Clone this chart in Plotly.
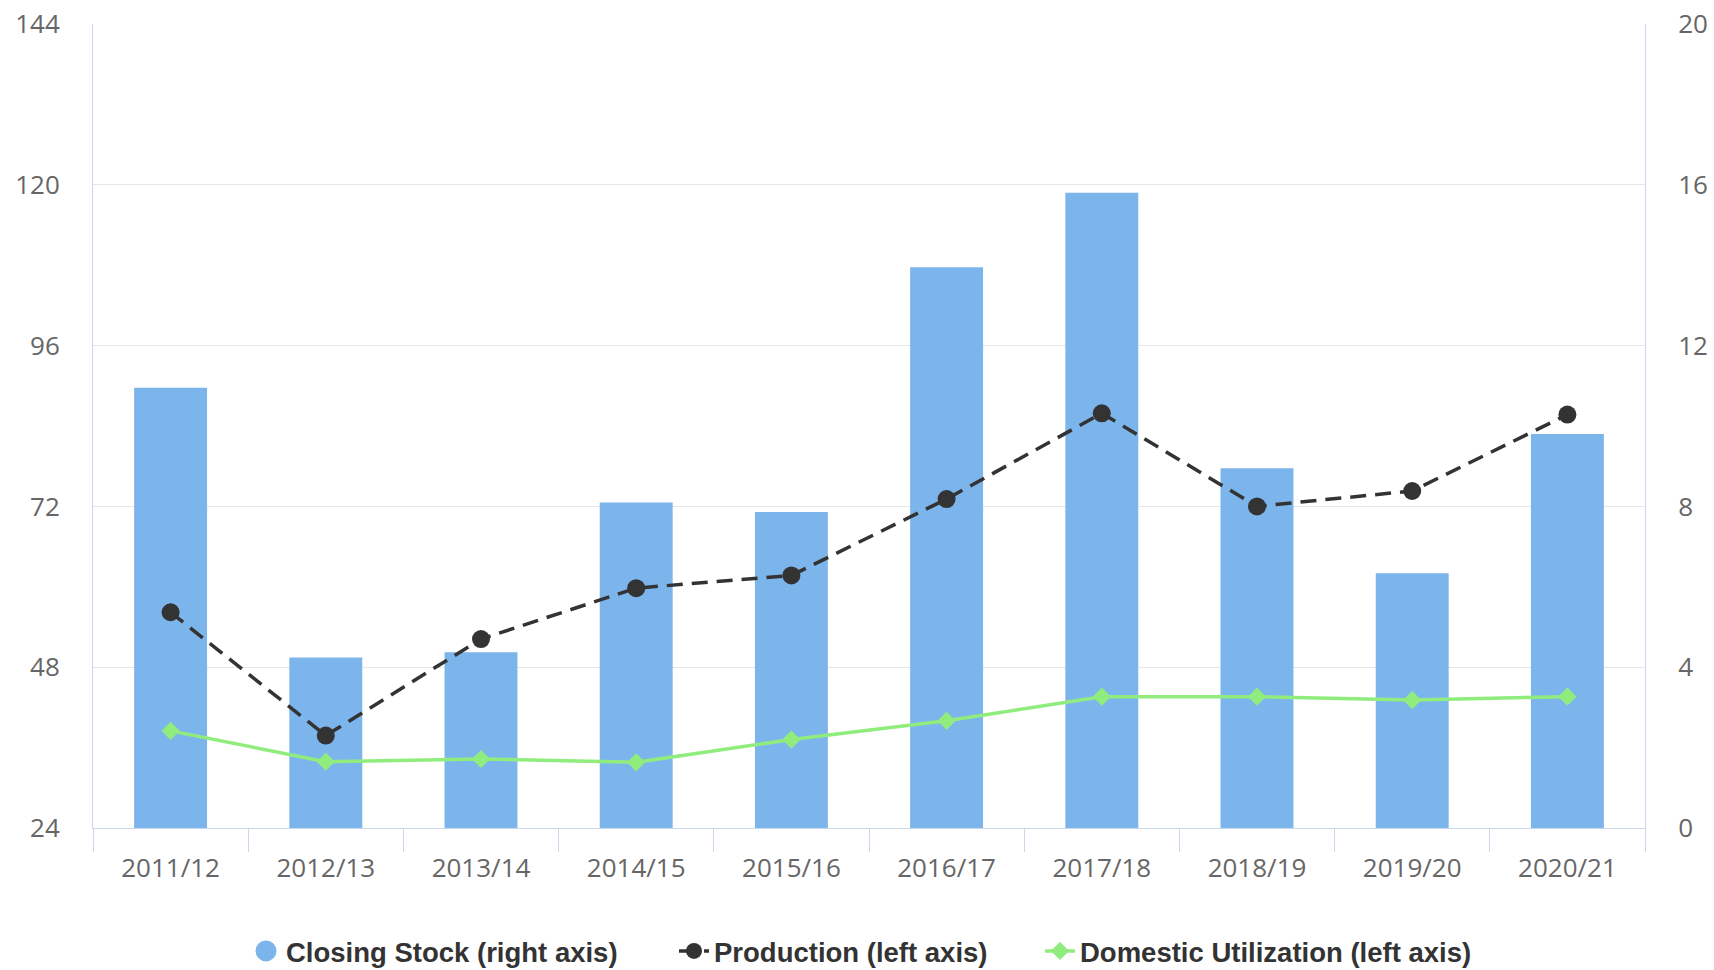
import plotly.graph_objects as go

seasons = ["2011/12", "2012/13", "2013/14", "2014/15", "2015/16",
           "2016/17", "2017/18", "2018/19", "2019/20", "2020/21"]
closing_stock = [10.95, 4.24, 4.37, 8.1, 7.86, 13.95, 15.8, 8.95, 6.34, 9.8]
production = [56.2, 37.8, 52.2, 59.8, 61.7, 73.1, 85.9, 72.0, 74.3, 85.7]
domestic_util = [38.5, 33.9, 34.3, 33.8, 37.2, 40.0, 43.6, 43.6, 43.1, 43.6]

left_ticks = [24, 48, 72, 96, 120, 144]
right_ticks = [0, 4, 8, 12, 16, 20]

BLUE = "#7cb5ec"
DARK = "#333333"
GREEN = "#90ed7d"
TICK_FONT = dict(family="Open Sans, DejaVu Sans, sans-serif", size=26, color="#666666")
LEG_FONT = dict(family="Liberation Sans, Arial, sans-serif", size=27.5,
                color="#333333", weight="bold")

W, H = 1714, 970

fig = go.Figure()

fig.add_trace(go.Bar(
    x=seasons, y=closing_stock, name="Closing Stock (right axis)",
    marker=dict(color=BLUE, line=dict(width=0)), yaxis="y", showlegend=False,
))
fig.add_trace(go.Scatter(
    x=[None], y=[None], mode="markers", name="Closing Stock (right axis)",
    marker=dict(color=BLUE, size=24, symbol="circle", line=dict(color=BLUE, width=5)),
    yaxis="y", legend="legend",
))
fig.add_trace(go.Scatter(
    x=seasons, y=production, name="Production (left axis)", mode="lines+markers",
    line=dict(color=DARK, width=3.5, dash="16px,9px"),
    marker=dict(color=DARK, size=18, symbol="circle"), yaxis="y2", legend="legend2",
))
fig.add_trace(go.Scatter(
    x=seasons, y=domestic_util, name="Domestic Utilization (left axis)", mode="lines+markers",
    line=dict(color=GREEN, width=3.5),
    marker=dict(color=GREEN, size=14, symbol="diamond"), yaxis="y2", legend="legend3",
))

def leg(xpx):
    return dict(orientation="h", xref="container", yref="container",
                x=xpx / W, xanchor="left", y=1 - 951 / H, yanchor="middle",
                font=LEG_FONT, itemwidth=30, bgcolor="rgba(0,0,0,0)")

fig.update_layout(
    width=W, height=H,
    margin=dict(l=93, r=69, t=24, b=142, autoexpand=False),
    plot_bgcolor="white", paper_bgcolor="white",
    bargap=0.53,
    showlegend=True,
    legend=leg(246),
    legend2=leg(674),
    legend3=leg(1040),
    xaxis=dict(
        type="category", range=[-0.5, 9.5], showgrid=False, showline=True,
        linecolor="#ccd6eb", linewidth=1,
        ticks="outside", tickson="boundaries", ticklen=23, tickcolor="#ccd6eb", tickwidth=1,
        tickfont=TICK_FONT, ticklabelstandoff=17, automargin=False,
    ),
    yaxis=dict(
        side="right", range=[0, 20], tickvals=right_ticks, showgrid=True,
        gridcolor="#e6e6e6", gridwidth=1, zeroline=False, showline=True,
        linecolor="#ccd6eb", linewidth=1, tickfont=TICK_FONT, ticklabelstandoff=27,
        automargin=False,
    ),
    yaxis2=dict(
        overlaying="y", side="left", range=[24, 144], tickvals=left_ticks,
        showgrid=False, zeroline=False, showline=True, linecolor="#ccd6eb", linewidth=1,
        tickfont=TICK_FONT, ticklabelstandoff=27, automargin=False,
    ),
)

fig.write_html("out.html", config={"displayModeBar": False},
               post_script="document.body.style.margin='0';document.body.style.overflow='hidden';")
